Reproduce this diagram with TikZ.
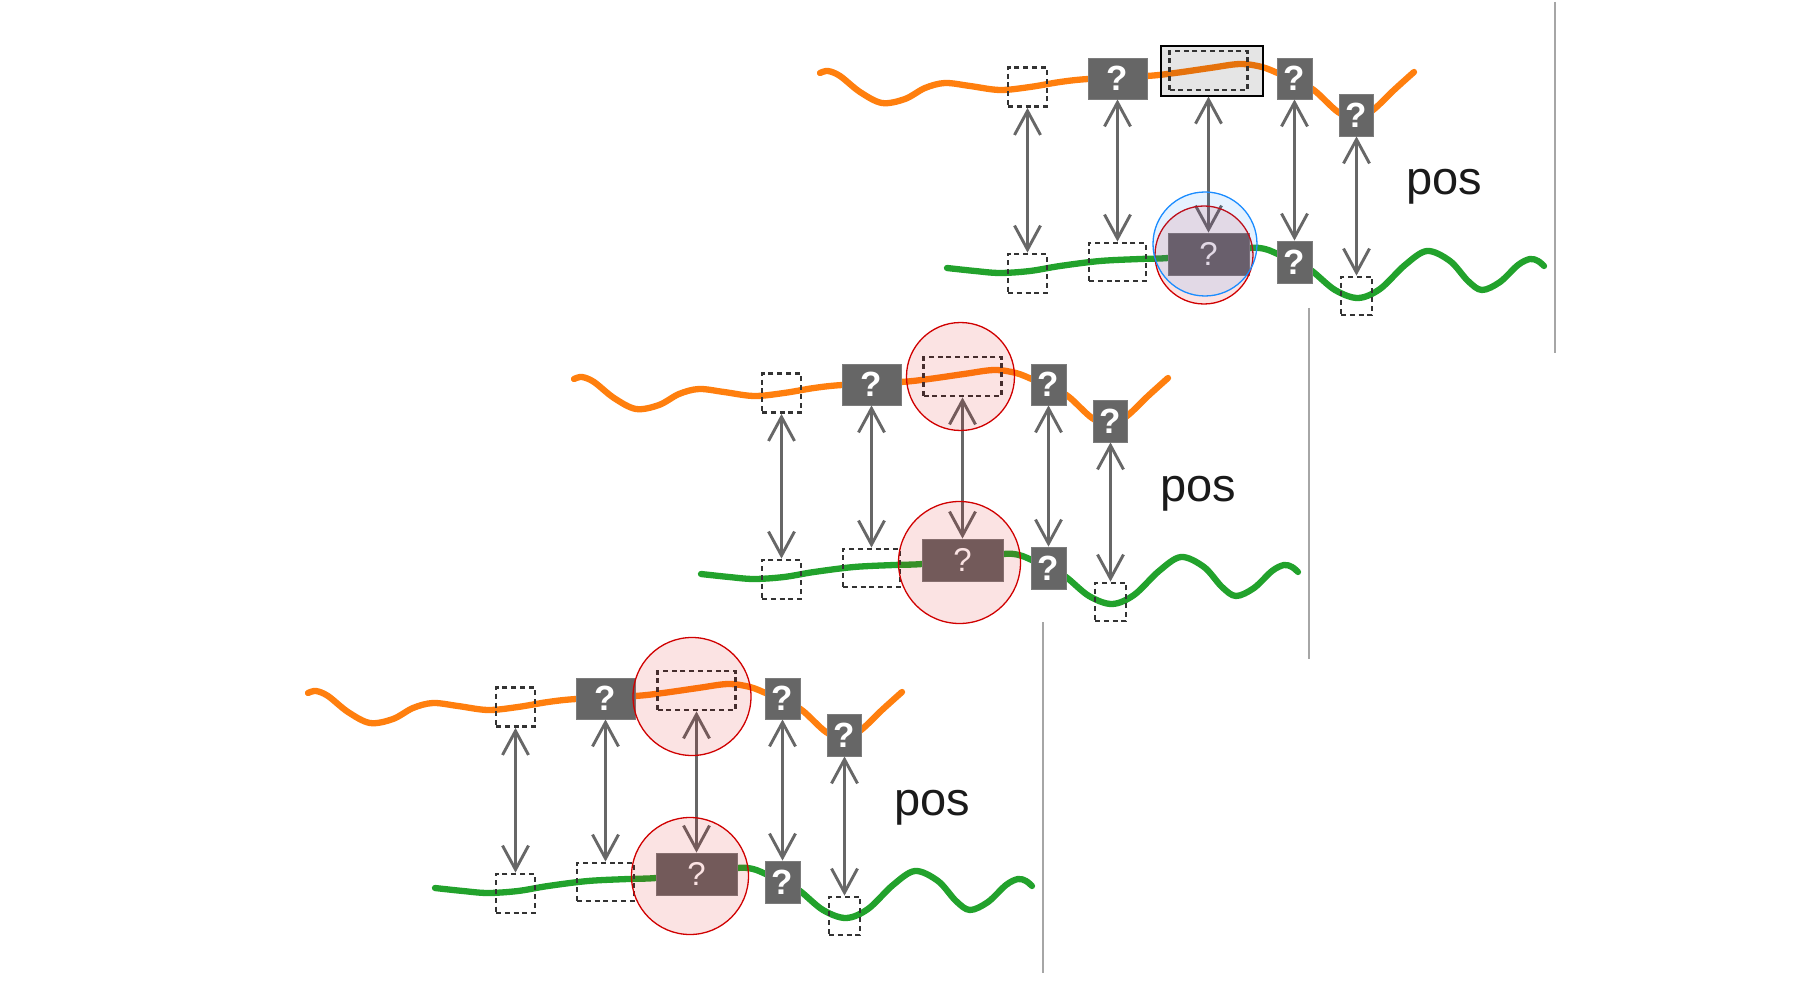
\documentclass[tikz,border=0pt]{standalone}
\usepackage{fontspec}
\setmainfont{Liberation Sans}
\usetikzlibrary{arrows.meta}
\definecolor{worange}{HTML}{FF7F0E}
\definecolor{wgreen}{HTML}{22A22C}
\definecolor{boxgray}{HTML}{666666}
\definecolor{boxrim}{HTML}{7C7C7C}
\definecolor{dashgray}{HTML}{333333}
\definecolor{arrgray}{HTML}{676767}
\definecolor{sepgray}{HTML}{A6A6A6}
\definecolor{hlred}{HTML}{D00000}
\definecolor{hlredfill}{HTML}{E00000}
\definecolor{hlblue}{HTML}{1A8CFF}
\definecolor{txtblack}{HTML}{1A1A1A}

\tikzset{
  wave/.style={line width=6.3pt, line cap=round, line join=round},
  qbox/.style={fill=boxgray, draw=boxrim, line width=0.8pt, text=white, inner sep=0pt, font=\bfseries\fontsize{35}{35}\selectfont},
  qbig/.style={qbox, font=\fontsize{33}{33}\selectfont},
  dbox/.style={draw=dashgray, line width=2.8pt, dash pattern=on 5pt off 3.8pt, inner sep=0pt},
  greybox/.style={draw=black, line width=1.2pt, fill=black, fill opacity=0.1, inner sep=0pt, minimum width=102pt, minimum height=50pt},
  dbl/.style={draw=arrgray, line width=2.9pt, >={Straight Barb[length=24pt,width=26pt]}, <->},
  hlr/.style={circle, draw=hlred, line width=1.3pt, fill=hlredfill, fill opacity=0.11, inner sep=0pt},
  hlb/.style={circle, draw=hlblue, line width=1.3pt, fill=hlblue, fill opacity=0.11, inner sep=0pt},
  sepline/.style={draw=sepgray, line width=2.2pt},
  poslabel/.style={font=\fontsize{47}{47}\selectfont, text=txtblack, inner sep=0pt, anchor=base west},
}

\newcommand\wavebase{%
  \draw[wave, worange] plot[smooth, tension=0.55] coordinates {(820,73) (828,71) (840,76) (860,92) (882,103) (905,99) (925,88) (945,83) (970,86) (1000,90) (1030,87) (1060,82) (1088,79) (1147,76) (1175,73) (1210,68) (1240,64) (1262,67) (1280,74) (1298,81) (1315,91) (1338,112) (1356,119) (1373,110) (1394,90) (1414,72)};
  \draw[wave, wgreen] plot[smooth, tension=0.55] coordinates {(947,268) (975,271) (1000,273) (1030,271) (1060,266) (1100,261) (1140,259) (1168,258) (1210,253) (1249,248) (1265,249) (1280,255) (1296,262) (1312,271) (1335,290) (1358,298) (1380,289) (1405,265) (1427,251) (1450,261) (1468,281) (1482,290) (1500,282) (1518,265) (1530,259) (1538,261) (1544,266)};
  \node[qbox, minimum width=59pt, minimum height=41pt] (t2) at (1117.5,78.5) {?};
  \node[qbox, minimum width=35pt, minimum height=41pt] (t4) at (1294.5,78.5) {?};
  \node[qbox, minimum width=34pt, minimum height=42pt] (t5) at (1356.5,115) {?};
  \node[qbig, minimum width=81pt, minimum height=42pt] (b3) at (1208.5,254) {?};
  \node[qbox, minimum width=35pt, minimum height=42pt] (b4) at (1294.5,262) {?};
}
\newcommand\waverest{%
  \node[dbox, minimum width=39pt, minimum height=39pt] (t1) at (1027.5,87) {};
  \node[dbox, minimum width=78pt, minimum height=39pt] (t3) at (1208.5,70.5) {};
  \node[dbox, minimum width=39pt, minimum height=39pt] (b1) at (1027.5,273.5) {};
  \node[dbox, minimum width=57pt, minimum height=38pt] (b2) at (1117.5,262) {};
  \node[dbox, minimum width=31pt, minimum height=38pt] (b5) at (1356.5,296) {};
  \draw[dbl] (t1) -- (b1);
  \draw[dbl] (t2) -- (b2);
  \draw[dbl] (t4) -- (b4);
  \draw[dbl] (t5) -- (b5);
  \node[poslabel] (pos) at (1406,195) {pos};
  \coordinate (septop) at (1555,2);
  \coordinate (sepbot) at (1555,353);
  \draw[sepline] (septop) -- (sepbot);
}

\begin{document}
\begin{tikzpicture}[x=1pt, y=-1pt]
\useasboundingbox (0,0) rectangle (1808,1000);
\fill[white] (0,0) rectangle (1808,1000);

% panel 1 (top)
\begin{scope}[name prefix=p1-]
  \wavebase
  \node[greybox] (g) at (1212,71) {};
  \waverest
  \draw[dbl] (g.south -| b3.north) -- (b3.north);
  \node[hlr, minimum size=98pt] (rc) at (1204,255) {};
  \node[hlb, minimum size=104pt] (bc) at (1205,244) {};
\end{scope}

% panel 2 (middle)
\begin{scope}[shift={(-246,306)}, name prefix=p2-]
  \wavebase
  \waverest
  \draw[dbl] (t3) -- (b3);
  \node[hlr, minimum size=108pt] (rt) at (1206.5,70.5) {};
  \node[hlr, minimum size=122pt] (rb) at (1205.5,256.5) {};
\end{scope}

% panel 3 (bottom)
\begin{scope}[shift={(-512,620)}, name prefix=p3-]
  \wavebase
  \waverest
  \draw[dbl] (t3) -- (b3);
  \node[hlr, minimum size=118pt] (rt) at (1204,76.5) {};
  \node[hlr, minimum size=117pt] (rb) at (1202,256) {};
\end{scope}
\end{tikzpicture}
\end{document}
